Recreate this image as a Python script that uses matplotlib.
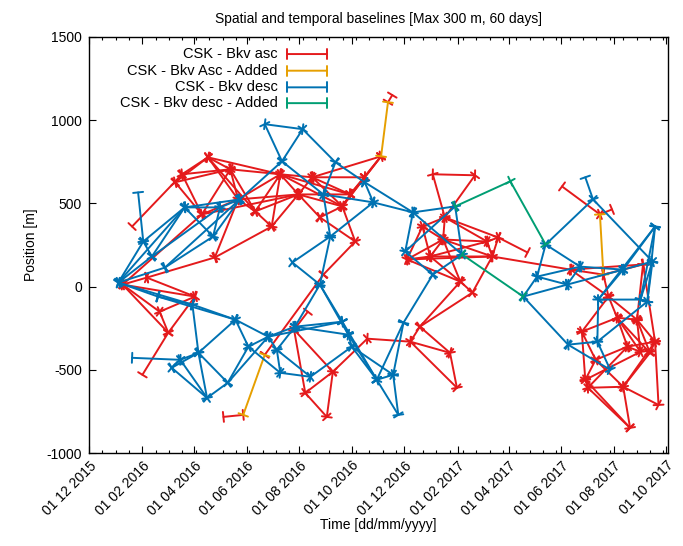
import numpy as np
import matplotlib
matplotlib.use('Agg')
import matplotlib.pyplot as plt
import matplotlib.dates as mdates
from matplotlib.ticker import AutoMinorLocator, MultipleLocator
from matplotlib.patches import ArrowStyle

plt.rcParams['font.family'] = ['Liberation Sans', 'DejaVu Sans']
plt.rcParams['axes.unicode_minus'] = False

# ---------------- data ----------------
REF_DATE = '2015-12-01'          # day 0 of the acquisition day offsets
X_END = '2017-10-03'

# ascending acquisitions: days after REF_DATE, perpendicular position [m]
asc_day = [39, 50, 67, 100, 108, 138, 164, 131, 146, 173, 193, 212, 222, 243, 259,
           268, 294, 303, 320, 339, 352, 309, 272, 123, 82, 92, 238, 62, 204, 156,
           179, 283, 251, 276, 323, 373, 384, 419, 427, 254, 399, 448, 387, 413, 369,
           396, 411, 462, 475, 468, 509, 431, 445, 347, 549, 593, 607, 597, 559, 643,
           603, 613, 636, 657, 651, 640, 625, 572, 588, 576, 579, 620, 661, 628]
asc_pos = [12, 361, 54, 627, 675, 777, 705, 434, 175, 524, 452, 361, 675, 554, 657,
           416, 482, 554, 657, 783, 1151, 271, 72, -60, -151, -277, -259, -530, -410, -783,
           -771, -512, -639, -783, -313, -331, -241, -398, -608, -151, 675, 669, 361, 416, 163,
           181, 283, 271, 295, 181, 205, 30, -36, 1108, 602, 434, 464, 72, 102, 133,
           -60, -187, -199, -331, -398, -392, -361, -271, -440, -560, -608, -602, -711, -849]
asc_pairs = [(1, 4), (4, 5), (5, 6), (4, 6), (3, 7), (4, 7), (3, 5), (3, 4), (6, 7), (6, 9),
             (6, 10), (5, 9), (7, 9), (7, 13), (0, 7), (0, 2), (2, 8), (2, 23), (0, 23), (8, 9),
             (8, 11), (9, 10), (9, 12), (10, 12), (10, 11), (11, 12), (11, 13), (6, 12), (5, 12),
             (12, 13), (12, 14), (13, 14), (12, 17), (13, 17), (14, 18), (17, 18), (16, 17),
             (15, 16), (13, 15), (14, 17), (16, 18), (17, 19), (16, 19), (18, 19), (14, 19),
             (15, 21), (16, 21), (21, 22), (10, 13), (12, 16), (13, 16), (14, 16), (9, 13),
             (5, 10), (3, 6),
             (0, 24), (0, 25), (23, 24), (23, 25), (24, 25), (25, 27),
             (53, 20), (29, 30),
             (28, 22), (26, 39), (26, 31), (26, 32), (31, 32), (31, 33), (32, 33), (31, 34),
             (34, 35), (35, 36), (35, 37), (35, 38), (36, 37), (37, 38), (36, 51), (36, 52),
             (40, 41), (40, 43), (41, 43), (42, 43), (42, 44), (42, 46), (43, 46), (43, 47),
             (43, 48), (44, 45), (44, 46), (45, 46), (45, 47), (45, 49), (46, 47), (46, 49),
             (47, 48), (48, 49), (47, 49), (48, 50), (44, 51), (45, 51), (46, 51), (51, 52),
             (49, 52), (44, 49), (49, 58), (42, 45),
             (54, 55), (55, 56), (57, 58), (57, 59), (58, 59), (57, 60), (58, 60), (60, 61),
             (60, 67), (61, 62), (61, 66), (62, 63), (62, 64), (62, 65), (63, 64), (63, 72),
             (65, 66), (66, 68), (67, 68), (67, 69), (68, 69), (69, 70), (70, 71), (69, 73),
             (70, 73), (71, 73), (71, 72), (63, 71), (68, 71), (61, 64), (63, 66), (61, 67),
             (65, 69), (66, 70), (59, 63), (59, 62), (61, 65), (60, 62), (64, 71)]
asc_added_pairs = [(19, 53), (30, 28), (55, 57)]

# descending acquisitions
desc_day = [34, 57, 63, 73, 88, 80, 111, 152, 144, 175, 204, 248, 224, 286, 320,
            330, 272, 280, 236, 268, 120, 170, 50, 106, 96, 127, 137, 161, 185, 208,
            218, 222, 239, 257, 294, 301, 305, 334, 353, 359, 365, 376, 425, 367, 399,
            433, 504, 530, 576, 585, 657, 570, 555, 520, 620, 654, 591, 648, 556, 590,
            605, 640, 489]
desc_pos = [24, 566, 271, 181, 114, -60, 476, 476, 301, 524, 976, 946, 753, 747, 627,
            506, 554, 301, 145, 12, -108, -199, -428, -440, -488, -398, -669, -578, -361, -301,
            -380, -518, -241, -542, -211, -289, -361, -560, -530, -771, -217, 446, 482, 211, 72,
            193, -60, 253, 657, 524, 361, 120, 12, 60, 102, 151, -78, -90, -349, -331,
            -500, -78, 633]
desc_pairs = [(1, 2), (0, 2), (0, 3), (0, 4), (0, 6), (0, 5), (0, 20), (5, 20), (2, 6), (3, 6),
              (3, 7), (4, 9), (4, 8), (2, 3), (6, 7), (6, 8), (7, 8), (6, 9), (7, 9), (8, 9),
              (9, 12), (10, 11), (10, 12), (11, 12), (11, 13), (12, 16), (13, 14), (13, 16),
              (14, 15), (15, 16), (16, 17), (15, 17), (17, 18), (17, 19), (18, 19), (14, 41),
              (15, 41), (41, 42), (41, 43), (42, 43), (41, 45), (43, 44), (44, 45), (44, 40),
              (42, 45),
              (5, 21), (20, 21), (20, 25), (21, 25), (21, 28), (21, 29), (22, 23), (23, 24),
              (24, 25), (23, 25), (24, 26), (23, 26), (25, 26), (26, 27), (25, 27), (27, 28),
              (27, 29), (28, 29), (29, 30), (30, 31), (28, 31), (29, 32), (30, 32), (32, 19),
              (19, 34), (19, 35), (32, 34), (29, 34), (31, 33), (30, 33), (33, 36), (32, 35),
              (34, 35), (35, 36), (36, 37), (35, 37), (34, 37), (37, 38), (36, 38), (37, 39),
              (38, 39), (38, 40), (40, 37),
              (46, 53), (47, 53), (47, 51), (47, 49), (48, 49), (49, 55), (50, 54), (50, 56),
              (50, 57), (50, 61), (51, 54), (53, 51), (53, 52), (52, 54), (46, 52), (46, 58),
              (58, 59), (59, 60), (58, 60), (56, 59), (57, 59), (56, 54), (57, 61), (55, 61),
              (56, 61), (55, 57), (54, 55), (51, 52)]
desc_added_pairs = [(42, 62), (62, 47), (45, 46)]

legend_labels = ['CSK - Bkv asc', 'CSK - Bkv Asc - Added',
                 'CSK - Bkv desc', 'CSK - Bkv desc - Added']
colors = ['#e41a1c', '#e69f00', '#0072b2', '#009e73']

# ---------------- figure ----------------
fig = plt.figure(figsize=(6.83, 5.46), dpi=100)
ax = fig.add_axes([89 / 683, 1 - 453 / 546, 579 / 683, 416 / 546])

ref = mdates.datestr2num(REF_DATE)
bar = ArrowStyle('|-|', widthA=0.36, widthB=0.36)


def draw_pairs(days, pos, pairs, color):
    x = ref + np.asarray(days, dtype=float)
    y = np.asarray(pos, dtype=float)
    for i, j in pairs:
        ax.annotate('', xy=(x[j], y[j]), xytext=(x[i], y[i]),
                    arrowprops=dict(arrowstyle=bar, color=color, lw=1.4,
                                    shrinkA=0, shrinkB=0, mutation_scale=10),
                    annotation_clip=False)


draw_pairs(asc_day, asc_pos, asc_pairs, colors[0])
draw_pairs(asc_day, asc_pos, asc_added_pairs, colors[1])
draw_pairs(desc_day, desc_pos, desc_pairs, colors[2])
draw_pairs(desc_day, desc_pos, desc_added_pairs, colors[3])

ax.set_xlim(ref, mdates.datestr2num(X_END))
ax.set_ylim(-1000, 1500)
ax.yaxis.set_major_locator(MultipleLocator(500))
ax.xaxis.set_major_locator(mdates.MonthLocator(bymonth=[2, 4, 6, 8, 10, 12], bymonthday=1))
ax.xaxis.set_major_formatter(mdates.DateFormatter('%d %m %Y'))
ax.xaxis.set_minor_locator(AutoMinorLocator(4))

ax.tick_params(axis='both', which='both', direction='in', top=True, right=True,
               labelsize=10, color='black')
ax.tick_params(axis='both', which='major', length=5, width=0.8)
ax.tick_params(axis='x', which='minor', length=2.5, width=0.8)
ax.tick_params(axis='y', pad=5)
ax.tick_params(axis='x', pad=4)
for lab in ax.get_xticklabels():
    lab.set_rotation(45)
    lab.set_ha('right')
    lab.set_va('top')
    lab.set_rotation_mode('anchor')
for s in ax.spines.values():
    s.set_linewidth(1.0)

ax.set_title('Spatial and temporal baselines [Max 300 m, 60 days]', fontsize=10, pad=10)
ax.set_ylabel('Position [m]', fontsize=10, labelpad=6)
ax.set_xlabel('Time [dd/mm/yyyy]', fontsize=10, labelpad=0)

# gnuplot-style key: text right aligned, sample to the right
rows_y = [0.959, 0.919, 0.879, 0.841]
for lab, col, yy in zip(legend_labels, colors, rows_y):
    ax.text(0.3264, yy, lab, transform=ax.transAxes, ha='right', va='center', fontsize=10.5)
    ax.annotate('', xy=(0.411, yy), xytext=(0.342, yy), xycoords='axes fraction',
                textcoords='axes fraction',
                arrowprops=dict(arrowstyle=bar, color=col, lw=1.4,
                                shrinkA=0, shrinkB=0, mutation_scale=10))

fig.savefig('out.png', dpi=100)
